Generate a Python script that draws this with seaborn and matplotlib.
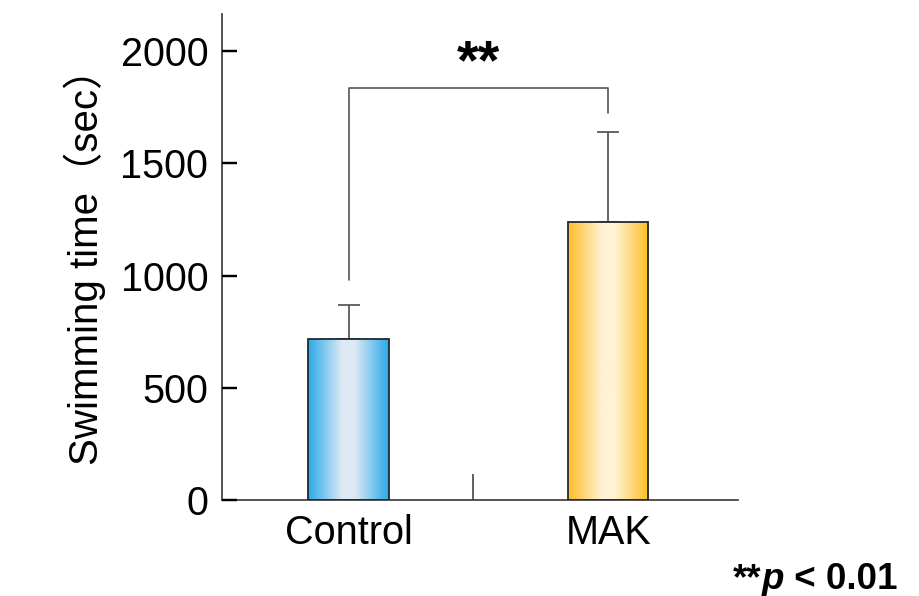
import numpy as np
import matplotlib
matplotlib.use("Agg")
import matplotlib.pyplot as plt
from matplotlib.colors import LinearSegmentedColormap
import seaborn as sns

# ---- data ----
groups = ["Control", "MAK"]
means = [716, 1238]
sds = [151, 401]
yticks = [0, 500, 1000, 1500, 2000]
sig_label = "**"
note_parts = ["**", "p", " < 0.01"]

# ---- style ----
edge_colors = ["#29a9e8", "#ffbd26"]
center_colors = ["#dde9f5", "#fff3d4"]

sns.set_theme(style="ticks")
plt.rcParams["font.family"] = ["Liberation Sans", "Noto Sans CJK JP", "DejaVu Sans"]
plt.rcParams["text.color"] = "black"

fig = plt.figure(figsize=(9.19, 5.96), dpi=100)
ax = fig.add_axes([0.2416, 0.161, 0.803 - 0.2416, 0.9765 - 0.161])

sns.barplot(x=groups, y=means, width=0.31, ax=ax, color="white",
            edgecolor="#1e2a30", linewidth=1.3, zorder=3)

# gradient fills clipped to bars
for patch, ec, cc in zip(ax.patches, edge_colors, center_colors):
    cmap = LinearSegmentedColormap.from_list(
        "g", [(0, ec), (0.42, cc), (0.58, cc), (1, ec)])
    x0, y0 = patch.get_x(), patch.get_y()
    w, h = patch.get_width(), patch.get_height()
    grad = np.linspace(0, 1, 256).reshape(1, -1)
    im = ax.imshow(grad, cmap=cmap, aspect="auto",
                   extent=(x0, x0 + w, y0, y0 + h), zorder=2)
    im.set_clip_path(patch)
    patch.set_facecolor("none")

# upward-only error bars
ax.errorbar(x=[0, 1], y=means, yerr=[[0, 0], sds], fmt="none",
            ecolor="#5a5a5a", elinewidth=1.3, capsize=8, capthick=1.3, zorder=1)

# significance bracket
top_y = 1835
ax.plot([0, 0, 1, 1], [980, top_y, top_y, 1724], color="#555555", lw=1.2,
        zorder=1)
ax.text(0.5, 1877, sig_label, ha="center", va="baseline", fontsize=40,
        fontweight="bold", color="black")

ax.set_xlim(-0.4875, 1.5)
ax.set_ylim(0, 2165)
ax.set_yticks(yticks)
ax.set_yticklabels([str(v) for v in yticks])
ax.tick_params(axis="y", which="major", left=True, direction="in", length=11,
               width=1.6, pad=10, labelsize=28.5, color="black",
               labelcolor="black")
ax.tick_params(axis="x", which="major", length=0, pad=10, labelsize=28.5,
               colors="black")
ax.set_xticks([0.48], minor=True)
ax.tick_params(axis="x", which="minor", direction="in", length=19,
               width=1.2, color="#444444", bottom=True)

# inward y tick marks, placed at the y tick values on the axis transform
ax.hlines(yticks, 0, 0.029, transform=ax.get_yaxis_transform(),
          colors="black", linewidth=1.6, zorder=5, clip_on=False)

for s in ["top", "right"]:
    ax.spines[s].set_visible(False)
for s in ["left", "bottom"]:
    ax.spines[s].set_color("#444444")
    ax.spines[s].set_linewidth(1.3)

ax.set_ylabel("Swimming time（sec）", fontsize=29, color="black", labelpad=10)
ax.set_xlabel("")

# p-value note: parts placed one after another in figure pixels
fs = 26.5
renderer = fig.canvas.get_renderer()
x_px = 733.0
styles = [dict(fontweight="bold"),
          dict(fontweight="bold", fontstyle="italic"),
          dict(fontweight="bold")]
for part, st in zip(note_parts, styles):
    t = fig.text(x_px / 919, 0.0117, part, fontsize=fs, ha="left",
                 va="baseline", color="black", **st)
    x_px += t.get_window_extent(renderer=renderer).width

fig.savefig("out.png", dpi=100)
